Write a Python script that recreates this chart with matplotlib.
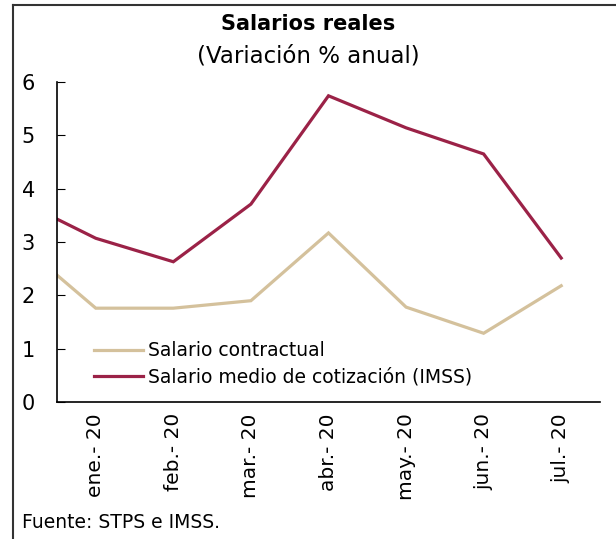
import matplotlib
matplotlib.use("Agg")
import matplotlib.pyplot as plt
from matplotlib.lines import Line2D

# Monthly periods; dic-19 sits just left of the axis and is clipped by it
periodos = [-1, 0, 1, 2, 3, 4, 5, 6]
etiquetas = ["ene.- 20", "feb.- 20", "mar.- 20", "abr.- 20",
             "may.- 20", "jun.- 20", "jul.- 20"]
contractual = [3.00, 1.76, 1.76, 1.90, 3.17, 1.78, 1.29, 2.18]
imss = [3.79, 3.07, 2.63, 3.71, 5.74, 5.14, 4.65, 2.70]

C_CONTR = "#D4C19C"
C_IMSS = "#9B2247"

plt.rcParams["font.family"] = ["DejaVu Sans"]

fig = plt.figure(figsize=(6.16, 5.39), dpi=100)
ax = fig.add_axes([0.0925, 0.254, 0.8815, 0.594])

ax.plot(periodos, contractual, color=C_CONTR, lw=2.3,
        label="Salario contractual", solid_joinstyle="miter")
ax.plot(periodos, imss, color=C_IMSS, lw=2.3,
        label="Salario medio de cotización (IMSS)", solid_joinstyle="miter")

ax.set_xlim(-0.5, 6.5)
ax.set_ylim(0, 6)
ax.set_xticks(range(len(etiquetas)))
ax.set_xticklabels(etiquetas, rotation=90, fontsize=14.5)
ax.set_yticks(range(0, 7))
ax.tick_params(axis="x", length=0, pad=8)
ax.tick_params(axis="y", direction="in", length=6, labelsize=15, pad=16)
for s in ["top", "right"]:
    ax.spines[s].set_visible(False)
for s in ["left", "bottom"]:
    ax.spines[s].set_linewidth(1.2)

ax.legend(loc="lower left", bbox_to_anchor=(0.055, 0.025), frameon=False,
          fontsize=13.5, handlelength=2.6, handletextpad=0.25,
          labelspacing=0.4, borderaxespad=0)

fig.text(0.5, 0.956, "Salarios reales", ha="center", va="center",
         fontsize=15, fontweight="bold")
fig.text(0.5, 0.897, "(Variación % anual)", ha="center", va="center",
         fontsize=16.5)
fig.text(0.036, 0.031, "Fuente: STPS e IMSS.", ha="left", va="center",
         fontsize=13.5)

# outer frame (top and left edges only, as cropped in the source)
fig.add_artist(Line2D([0.021, 1.0], [0.991, 0.991], color="#333333",
                      lw=1.5, transform=fig.transFigure))
fig.add_artist(Line2D([0.021, 0.021], [0.0, 0.991], color="#333333",
                      lw=1.5, transform=fig.transFigure))

fig.savefig("out.png", dpi=100)
